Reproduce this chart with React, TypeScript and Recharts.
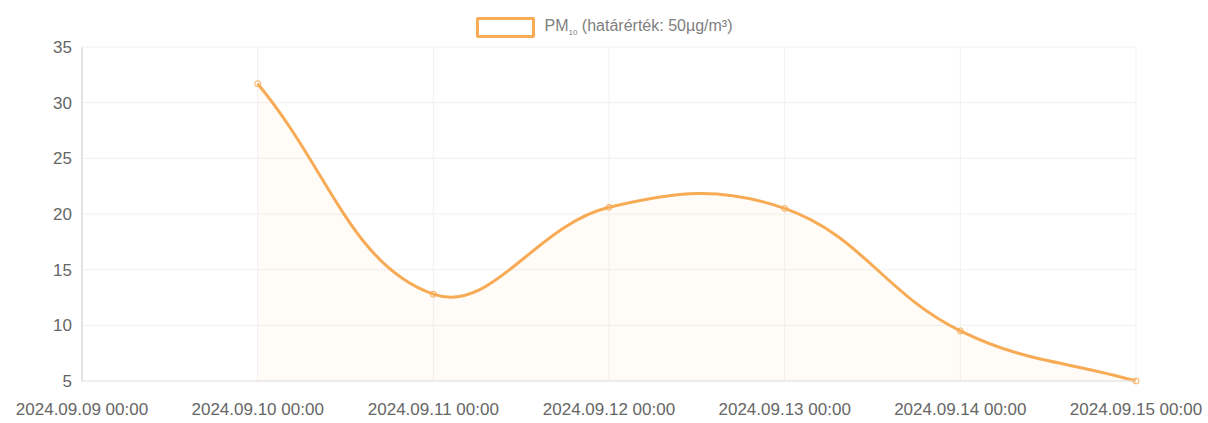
import { ComposedChart, Area, XAxis, YAxis, CartesianGrid } from "recharts";

const dates = [
  "2024.09.09 00:00",
  "2024.09.10 00:00",
  "2024.09.11 00:00",
  "2024.09.12 00:00",
  "2024.09.13 00:00",
  "2024.09.14 00:00",
  "2024.09.15 00:00",
];

const pm10: (number | null)[] = [null, 31.7, 12.8, 20.6, 20.5, 9.5, 5];

const yTicks = [5, 10, 15, 20, 25, 30, 35];

const data = dates.map((d, i) => ({ date: d, value: pm10[i] }));

const ORANGE = "#f7ab55";
const FONT = "'Liberation Sans', Arial, Helvetica, sans-serif";

// Chart.js style bezier (tension 0.4) as a d3-like curve factory
function tensionCurve(context: any) {
  let pts: [number, number][] = [];
  let line: number = NaN;
  const t = 0.4;
  return {
    areaStart() {
      line = 0;
    },
    areaEnd() {
      line = NaN;
    },
    lineStart() {
      pts = [];
    },
    point(x: number, y: number) {
      pts.push([+x, +y]);
    },
    lineEnd() {
      const n = pts.length;
      if (n) {
        if (line) context.lineTo(pts[0][0], pts[0][1]);
        else context.moveTo(pts[0][0], pts[0][1]);
        const cps = pts.map((cur, i) => {
          const prev = pts[Math.max(0, i - 1)];
          const next = pts[Math.min(n - 1, i + 1)];
          const d01 = Math.hypot(cur[0] - prev[0], cur[1] - prev[1]);
          const d12 = Math.hypot(next[0] - cur[0], next[1] - cur[1]);
          let s01 = d01 / (d01 + d12);
          let s12 = d12 / (d01 + d12);
          if (!isFinite(s01)) s01 = 0;
          if (!isFinite(s12)) s12 = 0;
          const fa = t * s01;
          const fb = t * s12;
          return {
            px: cur[0] - fa * (next[0] - prev[0]),
            py: cur[1] - fa * (next[1] - prev[1]),
            nx: cur[0] + fb * (next[0] - prev[0]),
            ny: cur[1] + fb * (next[1] - prev[1]),
          };
        });
        for (let i = 1; i < n; i++) {
          context.bezierCurveTo(cps[i - 1].nx, cps[i - 1].ny, cps[i].px, cps[i].py, pts[i][0], pts[i][1]);
        }
      }
      if (line || (line !== 0 && n === 1)) context.closePath();
      line = 1 - line;
    },
  };
}

export default function App() {
  return (
    <div style={{ position: "absolute", left: 0, top: 0, width: 1208, height: 423, background: "#fff" }}>
      <div
        style={{
          position: "absolute",
          top: 17,
          left: 0,
          width: 1208,
          display: "flex",
          justifyContent: "center",
          alignItems: "center",
          fontFamily: FONT,
          fontSize: 16,
          color: "#808080",
        }}
      >
        <span
          style={{
            display: "inline-block",
            width: 53,
            height: 15,
            border: `3px solid ${ORANGE}`,
            borderRadius: 2,
            marginRight: 10,
          }}
        />
        <span>
          PM<sub style={{ fontSize: 8 }}>10</sub> (határérték: 50µg/m³)
        </span>
      </div>
      <ComposedChart
        width={1208}
        height={423}
        data={data}
        margin={{ top: 47, right: 72, bottom: 0, left: 0 }}
      >
        <CartesianGrid stroke="#f1f1f1" />
        <XAxis
          dataKey="date"
          tickLine={false}
          tickSize={0}
          tickMargin={22}
          height={42}
          axisLine={{ stroke: "#e2e2e2" }}
          interval={0}
          tick={{ fill: "#666", fontSize: 17, fontFamily: FONT }}
        />
        <YAxis
          domain={[5, 35]}
          ticks={yTicks}
          width={82}
          tickLine={false}
          tickSize={0}
          tickMargin={10}
          axisLine={{ stroke: "#cfcfcf" }}
          tick={{ fill: "#666", fontSize: 17, fontFamily: FONT }}
        />
        <Area
          type={tensionCurve as any}
          dataKey="value"
          stroke={ORANGE}
          strokeWidth={3}
          fill={ORANGE}
          fillOpacity={0.05}
          baseValue={5}
          dot={{ r: 3, fill: "#f9c489", stroke: ORANGE, strokeWidth: 1 }}
          activeDot={false}
          isAnimationActive={false}
        />
      </ComposedChart>
    </div>
  );
}
